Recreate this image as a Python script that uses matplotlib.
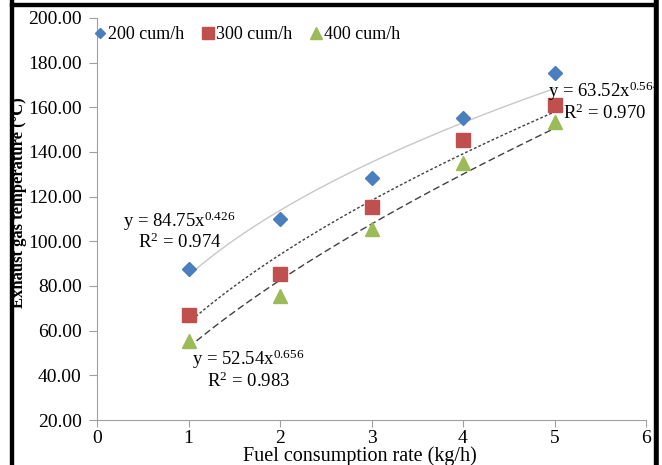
import numpy as np
import matplotlib.pyplot as plt
from matplotlib.patches import Rectangle

plt.rcParams['font.family'] = ['Liberation Serif', 'DejaVu Serif']
plt.rcParams['mathtext.fontset'] = 'custom'
plt.rcParams['mathtext.rm'] = 'Liberation Serif'
plt.rcParams['mathtext.it'] = 'Liberation Serif:italic'
plt.rcParams['mathtext.default'] = 'rm'

# 数据
fuel_rate = [1, 2, 3, 4, 5]
temp_200 = [87.6, 110.0, 128.5, 155.0, 175.3]
temp_300 = [67.2, 85.4, 115.4, 145.4, 161.2]
temp_400 = [55.2, 75.7, 105.5, 135.0, 153.6]
series_labels = ['200 cum/h', '300 cum/h', '400 cum/h']
x_ticks = [0, 1, 2, 3, 4, 5, 6]
y_ticks = [20, 40, 60, 80, 100, 120, 140, 160, 180, 200]

W, H = 662, 465


def power_fit(x, y):
    """对数线性回归得到 y = a * x^b"""
    b, ln_a = np.polyfit(np.log(x), np.log(y), 1)
    return np.exp(ln_a), b


def px(x, y):
    """像素坐标 -> figure 坐标"""
    return x / W, 1 - y / H


fig = plt.figure(figsize=(W / 100, H / 100), dpi=100)
ax = fig.add_axes([97 / W, 1 - 420 / H, 549 / W, 402 / H])

styles = [
    dict(marker='D', color='#4a7ebf', ms=7, line=dict(color='#c8c8c8', ls='-', lw=1.0)),
    dict(marker='s', color='#c0504d', ms=10, line=dict(color='#404040', ls=(0, (2, 1.5)), lw=1.0)),
    dict(marker='^', color='#9bbb59', ms=10, line=dict(color='#404040', ls=(0, (5, 2.5)), lw=1.0)),
]

xs = np.linspace(1, 5, 100)
for y, lab, st in zip([temp_200, temp_300, temp_400], series_labels, styles):
    a, b = power_fit(fuel_rate, y)
    ax.plot(xs, a * xs ** b, zorder=2, **st['line'])
    ax.plot(fuel_rate, y, ls='none', marker=st['marker'], color=st['color'],
            ms=st['ms'], mec=st['color'], label=lab, zorder=3)

ax.set_xlim(0, 6)
ax.set_ylim(20, 200)
ax.set_xticks(x_ticks)
ax.set_yticks(y_ticks)
ax.set_yticklabels([f'{v:.2f}' for v in y_ticks])
ax.tick_params(axis='y', labelsize=14, length=6, color='#a0a0a0', direction='out', pad=5)
ax.tick_params(axis='x', labelsize=14, length=5, color='#a0a0a0', direction='out', pad=2)

for side in ['top', 'right']:
    ax.spines[side].set_visible(False)
for side in ['left', 'bottom']:
    ax.spines[side].set_color('#a0a0a0')

fig.text(*px(360, 456), 'Fuel consumption rate (kg/h)', fontsize=14.5, ha='center', va='center')
fig.text(*px(19, 203), 'Exhaust gas temperature (°C)', fontsize=12, fontweight='bold',
         rotation=90, ha='center', va='center')

ax.legend(loc='upper left', ncol=3, frameon=False, fontsize=13, handlelength=0.6,
          handletextpad=0.15, columnspacing=1.0, borderaxespad=0, borderpad=0,
          markerscale=0.8, bbox_to_anchor=(-0.0044, 0.98))

# 拟合公式
eq_texts = [
    (123, 221, 'y = 84.75x$^{0.426}$'),
    (138, 242, 'R$^2$ = 0.974'),
    (192, 359, 'y = 52.54x$^{0.656}$'),
    (207, 381, 'R$^2$ = 0.983'),
    (548, 91, 'y = 63.52x$^{0.564}$'),
    (563, 113, 'R$^2$ = 0.970'),
]
for x, y, s in eq_texts:
    fig.text(*px(x, y), s, fontsize=13.5, ha='left', va='center')

# 外框
fig.patches.append(Rectangle(px(10, H + 10), 3 / W, 1.1, transform=fig.transFigure,
                             color='black', zorder=10))
fig.patches.append(Rectangle(px(10, 6), 1, 3 / H, transform=fig.transFigure,
                             color='black', zorder=10))
fig.patches.append(Rectangle(px(654, H + 10), 0.1, 1.1, transform=fig.transFigure,
                             color='black', zorder=10))
fig.patches.append(Rectangle(px(659, H + 10), 0.1, 1.1, transform=fig.transFigure,
                             color='white', zorder=11))

fig.savefig('out.png', dpi=100)
